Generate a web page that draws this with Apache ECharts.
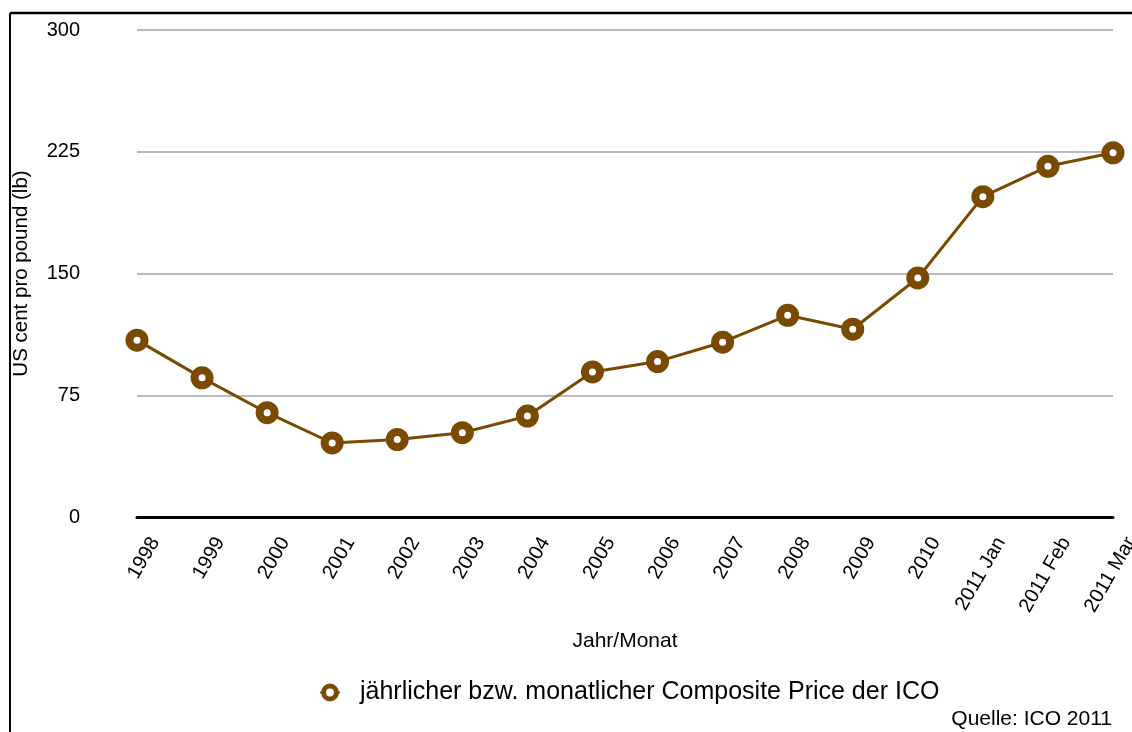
<!DOCTYPE html>
<html><head><meta charset="utf-8">
<script src="https://cdn.jsdelivr.net/npm/echarts@6/dist/echarts.min.js"></script>
<style>html,body{margin:0;padding:0;background:#fff}#c{width:1132px;height:732px}</style>
</head><body><div id="c"></div>
<script>
const categories = ['1998','1999','2000','2001','2002','2003','2004','2005','2006','2007','2008','2009','2010','2011 Jan','2011 Feb','2011 Mar'];
const prices = [108.95, 85.71, 64.25, 45.59, 47.74, 51.91, 62.15, 89.36, 95.75, 107.68, 124.25, 115.67, 147.24, 197.35, 216.03, 224.33];
const seriesName = 'jährlicher bzw. monatlicher Composite Price der ICO';
const yTicks = [0, 75, 150, 225, 300];
const FONT = '"Liberation Sans", Arial, sans-serif';
const BROWN = '#7a4a00';
const chart = echarts.init(document.getElementById('c'), null, {renderer:'canvas'});
chart.setOption({
  animation:false,
  textStyle:{fontFamily:FONT},
  grid:{left:137, right:19, top:30, bottom:215, containLabel:false, outerBoundsMode:'none'},
  graphic:[
    {type:'line', shape:{x1:10,y1:13,x2:1132,y2:13}, style:{stroke:'#000',lineWidth:2.5}},
    {type:'line', shape:{x1:10,y1:13,x2:10,y2:732}, style:{stroke:'#000',lineWidth:2}},
    {type:'text', right:20, top:709, style:{text:'Quelle: ICO 2011', font:'21px '+FONT, fill:'#000'}}
  ],
  legend:{
    data:[seriesName], left:314, top:675,
    itemWidth:20, itemHeight:16, itemGap:10,
    textStyle:{fontSize:25, color:'#000', fontFamily:FONT, padding:[0,0,0,15]},
    itemStyle:{borderWidth:5}
  },
  xAxis:{
    type:'category', data:categories, boundaryGap:false,
    name:'Jahr/Monat', nameLocation:'middle', nameGap:114,
    nameTextStyle:{fontSize:21, color:'#000', fontFamily:FONT},
    axisLine:{lineStyle:{color:'#000', width:3}},
    axisTick:{show:false},
    axisLabel:{rotate:60, fontSize:20, color:'#000', margin:53, padding:[0,-36,0,0], interval:0, fontFamily:FONT}
  },
  yAxis:{
    type:'value', min:yTicks[0], max:yTicks[yTicks.length-1], interval:75,
    name:'US cent pro pound (lb)', nameLocation:'middle', nameGap:105, nameRotate:90,
    nameTextStyle:{fontSize:20.5, color:'#000', fontFamily:FONT},
    axisLine:{show:false}, axisTick:{show:false},
    axisLabel:{fontSize:20, color:'#000', margin:57, fontFamily:FONT},
    splitLine:{lineStyle:{color:'#bbbbbb', width:2}}
  },
  series:[{
    name:seriesName, type:'line', data:prices,
    symbol:'circle', symbolSize:15,
    lineStyle:{color:BROWN, width:3},
    itemStyle:{color:'#fff', borderColor:BROWN, borderWidth:8}
  }]
});
</script></body></html>
